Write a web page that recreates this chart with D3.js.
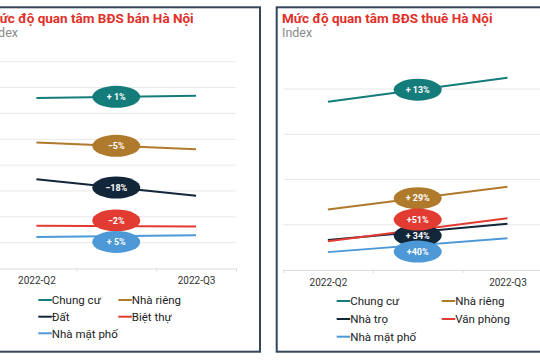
<!DOCTYPE html>
<html>
<head>
<meta charset="utf-8">
<script src="https://cdn.jsdelivr.net/npm/d3@7"></script>
<style>
  html, body { margin: 0; padding: 0; background: #fff; }
  svg { display: block; font-family: Roboto, "Noto Sans", sans-serif; }
</style>
</head>
<body>
<svg id="chart" width="540" height="360"></svg>
<script>
// ---- data ----
const quarters = ["2022-Q2", "2022-Q3"];

const saleTitle = "Mức độ quan tâm BĐS bán Hà Nội";
const saleSeries = ["Chung cư", "Nhà riêng", "Đất", "Biệt thự", "Nhà mặt phố"];
const saleQ2 = [132.0, 97.5, 69.0, 33.0, 24.3];
const saleQ3 = [133.6, 92.3, 56.3, 32.5, 25.7];
const saleLabels = ["+ 1%", "−5%", "−18%", "−2%", "+ 5%"];
const saleGrid = [20, 40, 60, 80, 100, 120, 140, 160];

const rentTitle = "Mức độ quan tâm BĐS thuê Hà Nội";
const rentSeries = ["Chung cư", "Nhà riêng", "Nhà trọ", "Văn phòng", "Nhà mặt phố"];
const rentQ2 = [81.9, 34.2, 20.8, 20.2, 15.4];
const rentQ3 = [92.5, 44.3, 27.9, 30.4, 21.5];
const rentLabels = ["+ 13%", "+ 29%", "+ 34%", "+51%", "+40%"];
const rentGrid = [27.5, 47.5, 67.5, 87.5];

const subtitle = "Index";
const colors = ["#147c7a", "#b07a2c", "#12263a", "#e23b31", "#4d98d6"];

// ---- drawing ----
const svg = d3.select("#chart");

function panel(cfg) {
  const g = svg.append("g");
  // frame
  g.append("rect")
    .attr("x", cfg.box[0]).attr("y", cfg.box[1])
    .attr("width", cfg.box[2]).attr("height", cfg.box[3])
    .attr("fill", "#fff").attr("stroke", "#33465a").attr("stroke-width", 2);

  g.append("text").attr("x", cfg.textX).attr("y", 22.7)
    .attr("fill", "#e2302a").attr("font-weight", "bold").attr("font-size", 13.5)
    .text(cfg.title);
  g.append("text").attr("x", cfg.textX).attr("y", 37.3)
    .attr("fill", "#8a8a8a").attr("font-size", 12.5)
    .text(subtitle);

  const x = d3.scaleLinear().domain([-0.25, 1.25]).range(cfg.xRange);
  const y = d3.scaleLinear().domain(cfg.yDomain).range(cfg.yRange);
  const xAt = q => x(quarters.indexOf(q));

  // grid
  g.append("g").selectAll("line").data(cfg.grid).join("line")
    .attr("x1", cfg.gridX[0]).attr("x2", cfg.gridX[1])
    .attr("y1", d => y(d)).attr("y2", d => y(d))
    .attr("stroke", "#e8e8e8").attr("stroke-width", 1);

  // x axis: tick marks between categories
  const axisY = cfg.yRange[0];
  const axTicks = g.append("g").attr("transform", `translate(0,${axisY})`)
    .call(d3.axisBottom(x).tickValues([-0.25, 0.25, 0.75, 1.25]).tickFormat("").tickSizeOuter(0).tickSize(3));
  axTicks.select(".domain").attr("stroke", "#dcdcdc");
  axTicks.selectAll(".tick line").attr("stroke", "#dcdcdc");

  const xLab = d3.scalePoint().domain(quarters).range([x(0), x(1)]);
  const axLab = g.append("g").attr("transform", `translate(0,${axisY})`)
    .call(d3.axisBottom(xLab).tickSize(0).tickPadding(8.4));
  axLab.select(".domain").remove();
  axLab.selectAll("text").attr("font-size", 10).attr("fill", "#333").attr("font-family", "Roboto, sans-serif");

  // lines
  const data = cfg.series.map((s, i) => ({
    name: s, color: colors[i], label: cfg.labels[i],
    pts: [{q: quarters[0], v: cfg.q2[i]}, {q: quarters[1], v: cfg.q3[i]}]
  }));
  const line = d3.line().x(d => xAt(d.q)).y(d => y(d.v));
  g.append("g").selectAll("path").data(data).join("path")
    .attr("d", d => line(d.pts))
    .attr("fill", "none").attr("stroke", d => d.color).attr("stroke-width", 2);

  // label bubble positions: midpoint, then push apart to avoid overlap
  const items = data.map((d, i) => ({
    d, i,
    cx: (xAt(d.pts[0].q) + xAt(d.pts[1].q)) / 2,
    cy: (y(d.pts[0].v) + y(d.pts[1].v)) / 2
  }));
  const sorted = items.slice().sort((a, b) => a.cy - b.cy);
  // cluster-based relaxation
  let clusters = sorted.map(it => ({ members: [it], target: it.cy }));
  const gap = cfg.gap;
  function pos(c) {
    const n = c.members.length;
    const mean = d3.mean(c.members, m => m.cy);
    return mean - (n - 1) * gap / 2;
  }
  let merged = true;
  while (merged) {
    merged = false;
    for (let k = 0; k < clusters.length - 1; k++) {
      const a = clusters[k], b = clusters[k + 1];
      const aEnd = pos(a) + (a.members.length - 1) * gap;
      if (pos(b) - aEnd < gap) {
        clusters.splice(k, 2, { members: a.members.concat(b.members) });
        merged = true;
        break;
      }
    }
  }
  clusters.forEach(c => {
    const start = pos(c);
    c.members.forEach((m, j) => { m.ly = start + j * gap; });
  });

  const bub = g.append("g").selectAll("g").data(items).join("g")
    .attr("transform", d => `translate(${d.cx},${d.ly})`);
  bub.append("ellipse").attr("rx", 24).attr("ry", 11)
    .attr("fill", d => d.d.color);
  bub.append("text").attr("text-anchor", "middle").attr("dy", "0.35em")
    .attr("fill", "#fff").attr("font-weight", "bold").attr("font-size", 9)
    .text(d => d.d.label);

  // legend
  const leg = g.append("g").selectAll("g").data(data).join("g")
    .attr("transform", (d, i) => `translate(${cfg.legX[i % 2]},${cfg.legY[Math.floor(i / 2)]})`);
  leg.append("line").attr("x1", 0).attr("x2", 13.5).attr("y1", 0).attr("y2", 0)
    .attr("stroke", d => d.color).attr("stroke-width", 2);
  leg.append("text").attr("x", 13.5).attr("y", 4.2)
    .attr("font-size", 11.5).attr("fill", "#222")
    .text(d => d.name);
}

panel({
  box: [-17.5, 7.3, 277.5, 344.4],
  textX: -12.2,
  title: saleTitle,
  xRange: [-3.5, 236],
  yDomain: [0, 160], yRange: [268.5, 61.7],
  grid: saleGrid, gridX: [-20, 235.7],
  series: saleSeries, q2: saleQ2, q3: saleQ3, labels: saleLabels,
  gap: 21.5,
  legX: [38.3, 118.3], legY: [300, 316.7, 333.3]
});

panel({
  box: [276.7, 7.3, 300, 344.4],
  textX: 282,
  title: rentTitle,
  xRange: [283, 552.4],
  yDomain: [7.5, 87.5], yRange: [270, 89],
  grid: rentGrid, gridX: [283.3, 560],
  series: rentSeries, q2: rentQ2, q3: rentQ3, labels: rentLabels,
  gap: 16,
  legX: [336.7, 441.7], legY: [301, 319, 336.7]
});
</script>
</body>
</html>
